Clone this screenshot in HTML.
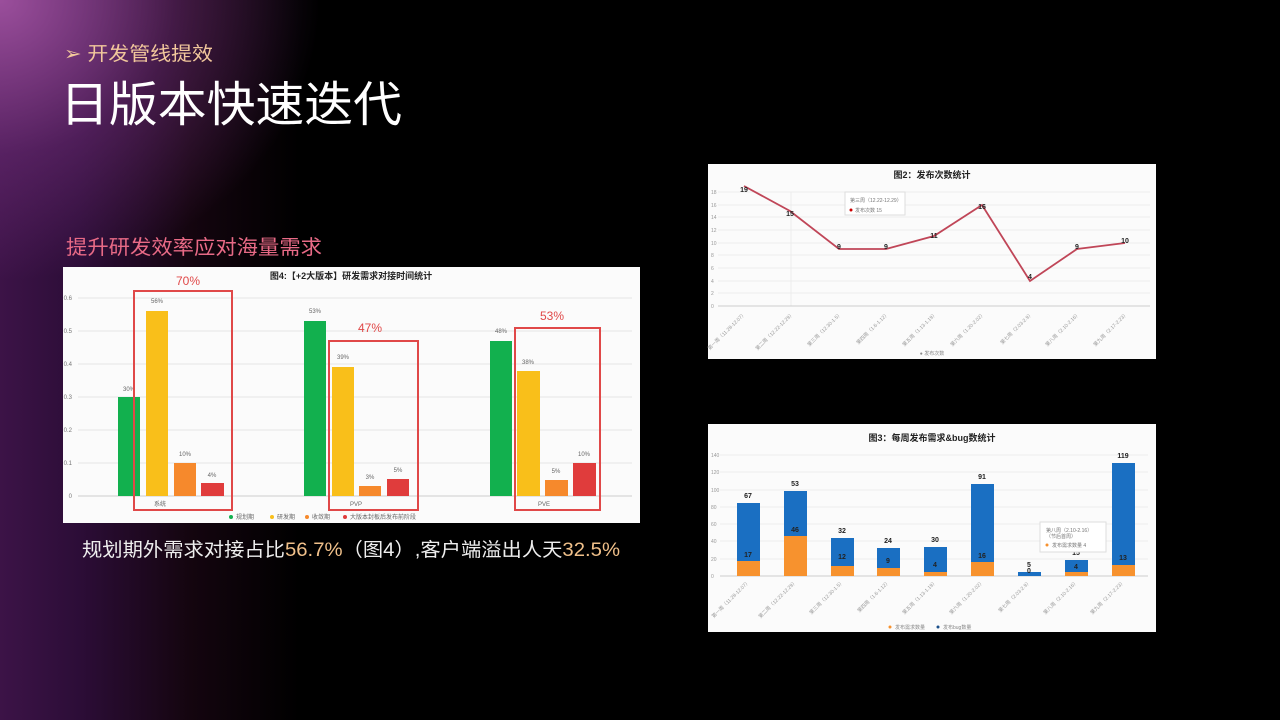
<!DOCTYPE html>
<html><head><meta charset="utf-8"><style>
html,body{margin:0;padding:0;width:1280px;height:720px;overflow:hidden;background:#000}
body{background:
radial-gradient(ellipse 320px 280px at 0px 0px, rgba(165,85,165,0.9), rgba(120,50,130,0.45) 55%, rgba(0,0,0,0) 100%),
linear-gradient(to right, #3c1347 0px, #2c0d37 80px, #14050f 190px, #000 300px);}
svg{position:absolute;left:0;top:0}
text{font-family:"Liberation Sans","Noto Sans CJK SC",sans-serif}
</style></head><body>
<svg width="1280" height="720" viewBox="0 0 1280 720">
<text x="64" y="60" font-size="19" fill="#f2c89c" textLength="149" lengthAdjust="spacingAndGlyphs">➢ 开发管线提效</text>
<text x="60" y="121" font-size="48" fill="#fff" textLength="342" lengthAdjust="spacingAndGlyphs">日版本快速迭代</text>
<text x="66" y="254" font-size="20" fill="#e86a86" textLength="256" lengthAdjust="spacingAndGlyphs">提升研发效率应对海量需求</text>
<text x="82" y="556" font-size="19" fill="#eee" textLength="538" lengthAdjust="spacingAndGlyphs">规划期外需求对接占比<tspan fill="#f0c08a">56.7%</tspan>（图4）,客户端溢出人天<tspan fill="#f0c08a">32.5%</tspan></text>

<!-- Chart 4 -->
<rect x="63" y="267" width="577" height="256" fill="#fbfbfb"/>
<text x="351" y="279" font-size="9" font-weight="bold" fill="#222" text-anchor="middle">图4:【+2大版本】研发需求对接时间统计</text>
<g stroke="#e6e6e6" stroke-width="1">
<line x1="78" y1="463" x2="632" y2="463"/><line x1="78" y1="430" x2="632" y2="430"/><line x1="78" y1="397" x2="632" y2="397"/><line x1="78" y1="364" x2="632" y2="364"/><line x1="78" y1="331" x2="632" y2="331"/><line x1="78" y1="298" x2="632" y2="298"/>
</g>
<line x1="78" y1="496" x2="632" y2="496" stroke="#ccc"/>
<g font-size="6" fill="#777" text-anchor="end">
<text x="72" y="498">0</text><text x="72" y="465">0.1</text><text x="72" y="432">0.2</text><text x="72" y="399">0.3</text><text x="72" y="366">0.4</text><text x="72" y="333">0.5</text><text x="72" y="300">0.6</text>
</g>
<rect x="118" y="397" width="22" height="99" fill="#12b04e"/>
<rect x="146" y="311" width="22" height="185" fill="#f9bf1a"/>
<rect x="174" y="463" width="22" height="33" fill="#f6892c"/>
<rect x="201" y="483" width="23" height="13" fill="#e03c3c"/>
<rect x="304" y="321" width="22" height="175" fill="#12b04e"/>
<rect x="332" y="367" width="22" height="129" fill="#f9bf1a"/>
<rect x="359" y="486" width="22" height="10" fill="#f6892c"/>
<rect x="387" y="479" width="22" height="17" fill="#e03c3c"/>
<rect x="490" y="341" width="22" height="155" fill="#12b04e"/>
<rect x="517" y="371" width="23" height="125" fill="#f9bf1a"/>
<rect x="545" y="480" width="23" height="16" fill="#f6892c"/>
<rect x="573" y="463" width="23" height="33" fill="#e03c3c"/>
<g font-size="6" fill="#666" text-anchor="middle">
<text x="129" y="391">30%</text><text x="157" y="303">56%</text><text x="185" y="456">10%</text><text x="212" y="477">4%</text>
<text x="315" y="313">53%</text><text x="343" y="359">39%</text><text x="370" y="479">3%</text><text x="398" y="472">5%</text>
<text x="501" y="333">48%</text><text x="528" y="364">38%</text><text x="556" y="473">5%</text><text x="584" y="456">10%</text>
<text x="160" y="506">系统</text><text x="356" y="506">PVP</text><text x="544" y="506">PVE</text>
</g>
<g fill="none" stroke="#e04848" stroke-width="2">
<rect x="134" y="291" width="98" height="219"/>
<rect x="329" y="341" width="89" height="169"/>
<rect x="515" y="328" width="85" height="182"/>
</g>
<g font-size="12" fill="#e04848" text-anchor="middle">
<text x="188" y="285">70%</text><text x="370" y="332">47%</text><text x="552" y="320">53%</text>
</g>
<g font-size="6" fill="#666">
<circle cx="231" cy="517" r="2" fill="#12b04e"/><text x="236" y="519">规划期</text>
<circle cx="272" cy="517" r="2" fill="#f9bf1a"/><text x="277" y="519">研发期</text>
<circle cx="307" cy="517" r="2" fill="#f6892c"/><text x="312" y="519">收敛期</text>
<circle cx="345" cy="517" r="2" fill="#e03c3c"/><text x="350" y="519">大版本封板后发布前阶段</text>
</g>

<!-- Chart 2 -->
<rect x="708" y="164" width="448" height="195" fill="#fbfbfb"/>
<text x="932" y="178" font-size="9" font-weight="bold" fill="#222" text-anchor="middle">图2：发布次数统计</text>
<g stroke="#ececec">
<line x1="718" y1="293" x2="1150" y2="293"/><line x1="718" y1="281" x2="1150" y2="281"/><line x1="718" y1="268" x2="1150" y2="268"/><line x1="718" y1="255" x2="1150" y2="255"/><line x1="718" y1="243" x2="1150" y2="243"/><line x1="718" y1="230" x2="1150" y2="230"/><line x1="718" y1="217" x2="1150" y2="217"/><line x1="718" y1="205" x2="1150" y2="205"/><line x1="718" y1="192" x2="1150" y2="192"/>
<line x1="791" y1="192" x2="791" y2="306"/>
</g>
<line x1="718" y1="306" x2="1150" y2="306" stroke="#ccc"/>
<polyline points="744,186 790,211 839,249 886,249 934,236 982,205 1030,281 1077,249 1125,243" fill="none" stroke="#c04658" stroke-width="1.8"/>
<g font-size="7" font-weight="bold" fill="#222" text-anchor="middle">
<text x="744" y="192">19</text><text x="790" y="216">15</text><text x="839" y="249">9</text><text x="886" y="249">9</text><text x="934" y="238">11</text><text x="982" y="209">16</text><text x="1030" y="279">4</text><text x="1077" y="249">9</text><text x="1125" y="243">10</text>
</g>
<rect x="845" y="192" width="60" height="23" fill="#fff" stroke="#ddd"/>
<text x="850" y="202" font-size="5" fill="#777">第三周（12.22-12.29）</text>
<circle cx="851" cy="210" r="1.5" fill="#c00"/><text x="855" y="212" font-size="5" fill="#777">发布次数     15</text>
<g font-size="5" fill="#999">
<text x="711" y="308">0</text><text x="711" y="295">2</text><text x="711" y="283">4</text><text x="711" y="270">6</text><text x="711" y="257">8</text><text x="711" y="245">10</text><text x="711" y="232">12</text><text x="711" y="219">14</text><text x="711" y="207">16</text><text x="711" y="194">18</text>
</g>
<g font-size="5" fill="#999" text-anchor="end">
<text transform="translate(746,314) rotate(-45)">第一周（11.28-12.07）</text>
<text transform="translate(794,314) rotate(-45)">第二周（12.22-12.29）</text>
<text transform="translate(842,314) rotate(-45)">第三周（12.30-1.5）</text>
<text transform="translate(889,314) rotate(-45)">第四周（1.6-1.12）</text>
<text transform="translate(937,314) rotate(-45)">第五周（1.13-1.19）</text>
<text transform="translate(985,314) rotate(-45)">第六周（1.20-2.02）</text>
<text transform="translate(1033,314) rotate(-45)">第七周（2.03-2.9）</text>
<text transform="translate(1080,314) rotate(-45)">第八周（2.10-2.16）</text>
<text transform="translate(1128,314) rotate(-45)">第九周（2.17-2.23）</text>
</g>
<text x="932" y="355" font-size="5" fill="#888" text-anchor="middle">● 发布次数</text>

<!-- Chart 3 -->
<rect x="708" y="424" width="448" height="208" fill="#fbfbfb"/>
<text x="932" y="441" font-size="9" font-weight="bold" fill="#222" text-anchor="middle">图3：每周发布需求&amp;bug数统计</text>
<g stroke="#ececec">
<line x1="720" y1="559" x2="1148" y2="559"/><line x1="720" y1="541" x2="1148" y2="541"/><line x1="720" y1="524" x2="1148" y2="524"/><line x1="720" y1="507" x2="1148" y2="507"/><line x1="720" y1="490" x2="1148" y2="490"/><line x1="720" y1="472" x2="1148" y2="472"/><line x1="720" y1="455" x2="1148" y2="455"/>
</g>
<line x1="720" y1="576" x2="1148" y2="576" stroke="#ccc"/>
<g font-size="5" fill="#999">
<text x="711" y="578">0</text><text x="711" y="561">20</text><text x="711" y="543">40</text><text x="711" y="526">60</text><text x="711" y="509">80</text><text x="711" y="492">100</text><text x="711" y="474">120</text><text x="711" y="457">140</text>
</g>
<g fill="#1a6fc2">
<rect x="737" y="503" width="23" height="73"/><rect x="784" y="491" width="23" height="85"/><rect x="831" y="538" width="23" height="38"/><rect x="877" y="548" width="23" height="28"/><rect x="924" y="547" width="23" height="29"/><rect x="971" y="484" width="23" height="92"/><rect x="1018" y="572" width="23" height="4"/><rect x="1065" y="560" width="23" height="16"/><rect x="1112" y="463" width="23" height="113"/>
</g>
<g fill="#f7922e">
<rect x="737" y="561" width="23" height="15"/><rect x="784" y="536" width="23" height="40"/><rect x="831" y="566" width="23" height="10"/><rect x="877" y="568" width="23" height="8"/><rect x="924" y="572" width="23" height="4"/><rect x="971" y="562" width="23" height="14"/><rect x="1065" y="572" width="23" height="4"/><rect x="1112" y="565" width="23" height="11"/>
</g>
<g font-size="7" font-weight="bold" fill="#222" text-anchor="middle">
<text x="748" y="498">67</text><text x="795" y="486">53</text><text x="842" y="533">32</text><text x="888" y="543">24</text><text x="935" y="542">30</text><text x="982" y="479">91</text><text x="1029" y="567">5</text><text x="1076" y="555">15</text><text x="1123" y="458">119</text>
<text x="748" y="557">17</text><text x="795" y="532">46</text><text x="842" y="559">12</text><text x="888" y="563">9</text><text x="935" y="567">4</text><text x="982" y="558">16</text><text x="1029" y="573">0</text><text x="1076" y="569">4</text><text x="1123" y="560">13</text>
</g>
<rect x="1040" y="522" width="66" height="30" fill="#fff" stroke="#ddd"/>
<text x="1046" y="532" font-size="5" fill="#777">第八周（2.10-2.16）</text>
<text x="1046" y="538" font-size="5" fill="#777">（节后首周）</text>
<circle cx="1047" cy="545" r="1.5" fill="#f7922e"/><text x="1052" y="547" font-size="5" fill="#777">发布需求数量     4</text>
<g font-size="5" fill="#999" text-anchor="end">
<text transform="translate(750,582) rotate(-45)">第一周（11.28-12.07）</text>
<text transform="translate(797,582) rotate(-45)">第二周（12.22-12.29）</text>
<text transform="translate(844,582) rotate(-45)">第三周（12.30-1.5）</text>
<text transform="translate(890,582) rotate(-45)">第四周（1.6-1.12）</text>
<text transform="translate(937,582) rotate(-45)">第五周（1.13-1.19）</text>
<text transform="translate(984,582) rotate(-45)">第六周（1.20-2.02）</text>
<text transform="translate(1031,582) rotate(-45)">第七周（2.03-2.9）</text>
<text transform="translate(1078,582) rotate(-45)">第八周（2.10-2.16）</text>
<text transform="translate(1125,582) rotate(-45)">第九周（2.17-2.23）</text>
</g>
<g font-size="5" fill="#888">
<circle cx="890" cy="627" r="1.5" fill="#f7922e"/><text x="895" y="629">发布需求数量</text>
<circle cx="938" cy="627" r="1.5" fill="#1a4f8a"/><text x="943" y="629">发布bug数量</text>
</g>
</svg>
</body></html>
